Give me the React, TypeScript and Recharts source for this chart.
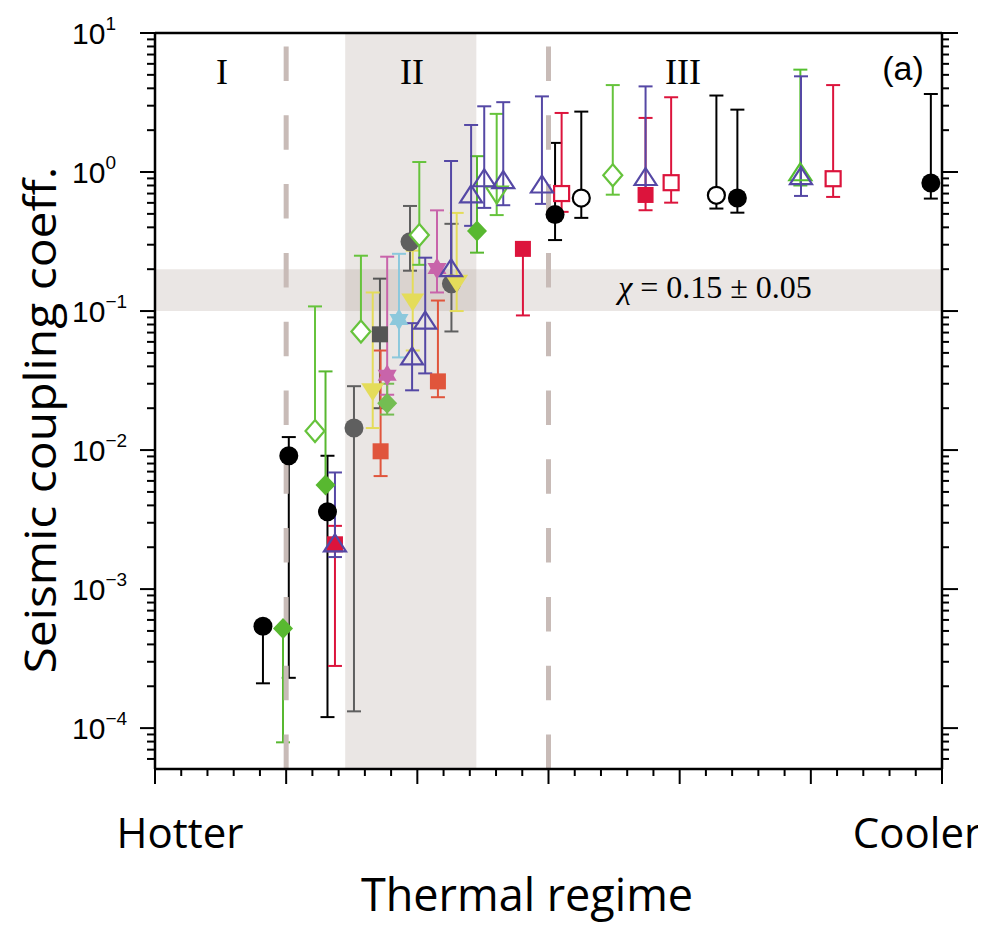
import React from 'react';
import {
  ComposedChart,
  Scatter,
  XAxis,
  YAxis,
  ErrorBar,
  ReferenceArea,
  ReferenceLine,
} from 'recharts';

// each point: [thermal position, coupling coeff, lower bound, upper bound]
type Pt = [number, number, number, number];

const grayDots: Pt[] = [
  [1.517, 0.0144, 1.32e-4, 0.0288],
  [1.944, 0.315, 0.195, 0.57],
  [2.26, 0.157, 0.0713, 0.424],
];
const graySquares: Pt[] = [[1.715, 0.068, 0.02, 0.171]];
const blackDots: Pt[] = [
  [0.823, 5.4e-4, 2.1e-4, 5.4e-4],
  [1.02, 9.1e-3, 2.3e-4, 0.0124],
  [1.315, 3.6e-3, 1.2e-4, 9.1e-3],
  [3.05, 0.494, 0.324, 1.62],
  [4.44, 0.651, 0.51, 2.81],
  [5.915, 0.834, 0.644, 3.64],
];
const blackRings: Pt[] = [
  [3.25, 0.65, 0.468, 2.72],
  [4.28, 0.68, 0.546, 3.55],
];
const crimsonSquares: Pt[] = [
  [1.372, 2.1e-3, 2.8e-4, 2.85e-3],
  [2.805, 0.28, 0.093, 0.31],
  [3.74, 0.684, 0.531, 2.45],
];
const orangeSquares: Pt[] = [
  [1.72, 9.8e-3, 6.5e-3, 0.052],
  [2.157, 0.0312, 0.024, 0.119],
];
const redOpenSquares: Pt[] = [
  [3.1, 0.7, 0.517, 2.66],
  [3.935, 0.838, 0.602, 3.45],
  [5.17, 0.895, 0.662, 4.22],
];
const yellowDown: Pt[] = [
  [1.66, 0.0265, 0.0144, 0.136],
  [1.965, 0.117, 0.052, 0.272],
  [2.3, 0.16, 0.1, 0.508],
];
const pinkStars: Pt[] = [
  [1.77, 0.0345, 0.025, 0.246],
  [2.15, 0.202, 0.136, 0.53],
];
const blueStars: Pt[] = [[1.86, 0.0869, 0.0464, 0.258]];
const greenDiamonds: Pt[] = [
  [0.976, 5.2e-4, 7.9e-5, 5.2e-4],
  [1.3, 5.6e-3, 5.6e-3, 0.0368],
  [2.455, 0.376, 0.263, 1.3],
];
const lightGreenDiamonds: Pt[] = [[1.77, 0.0217, 0.018, 0.03]];
const greenOpenDiamonds: Pt[] = [
  [1.22, 0.0137, 0.0137, 0.108],
  [1.57, 0.0713, 0.0713, 0.25],
  [2.015, 0.352, 0.215, 1.18],
  [3.49, 0.947, 0.687, 4.22],
];
const greenOpenUp: Pt[] = [[4.92, 0.98, 0.8, 5.45]];
const greenOpenDown: Pt[] = [[2.605, 0.7, 0.49, 2.62]];
const purpleOpenUp: Pt[] = [
  [1.372, 2.1e-3, 1.7e-3, 6.9e-3],
  [1.96, 0.0464, 0.0269, 0.0818],
  [2.06, 0.084, 0.0356, 0.242],
  [2.257, 0.2, 0.15, 1.2],
  [2.41, 0.68, 0.41, 2.18],
  [2.51, 0.887, 0.552, 2.97],
  [2.655, 0.86, 0.577, 3.18],
  [2.95, 0.8, 0.59, 3.5],
  [3.74, 0.906, 0.71, 4.13],
  [4.925, 0.92, 0.673, 4.88],
];

const xMajor = [0, 1, 2, 3, 4, 5, 6];
const yMajor = [1e-4, 1e-3, 1e-2, 1e-1, 1, 10];
const yExpLabels = ['\u22124', '\u22123', '\u22122', '\u22121', '0', '1'];

const Y_DOMAIN = [5.08e-5, 10];

const xTicks: number[] = [];
xMajor.slice(0, -1).forEach((m) => {
  for (let k = 0; k < 5; k++) xTicks.push(Math.round((m + k * 0.2) * 10) / 10);
});
xTicks.push(xMajor[xMajor.length - 1]);

// decade minors 2..9, plus the partial decade below 1e-4
const yTicks: number[] = [6e-5, 7e-5, 8e-5, 9e-5];
yMajor.forEach((m, i) => {
  yTicks.push(m);
  if (i < yMajor.length - 1) for (let k = 2; k <= 9; k++) yTicks.push(m * k);
});

type Kind = 'dot' | 'ring' | 'square' | 'openSquare' | 'up' | 'down' | 'downFilled' | 'diamond' | 'openDiamond' | 'star';

const groups: { data: Pt[]; color: string; kind: Kind }[] = [
  { data: grayDots, color: '#5f5f5f', kind: 'dot' },
  { data: graySquares, color: '#555555', kind: 'square' },
  { data: blackDots, color: '#000000', kind: 'dot' },
  { data: blackRings, color: '#000000', kind: 'ring' },
  { data: crimsonSquares, color: '#dc143c', kind: 'square' },
  { data: orangeSquares, color: '#e0553c', kind: 'square' },
  { data: redOpenSquares, color: '#dc143c', kind: 'openSquare' },
  { data: yellowDown, color: '#e4dc5a', kind: 'downFilled' },
  { data: pinkStars, color: '#c864aa', kind: 'star' },
  { data: blueStars, color: '#8cc8dc', kind: 'star' },
  { data: greenDiamonds, color: '#58b830', kind: 'diamond' },
  { data: lightGreenDiamonds, color: '#74bd52', kind: 'diamond' },
  { data: greenOpenDiamonds, color: '#66c33c', kind: 'openDiamond' },
  { data: greenOpenUp, color: '#55c030', kind: 'up' },
  { data: greenOpenDown, color: '#66c33c', kind: 'down' },
  { data: purpleOpenUp, color: '#5548a5', kind: 'up' },
];

const Marker = ({ cx, cy, kind, color }: { cx: number; cy: number; kind: Kind; color: string }) => {
  if (cx == null || cy == null) return null;
  const sw = 2.2;
  switch (kind) {
    case 'dot':
      return <circle cx={cx} cy={cy} r={9.5} fill={color} />;
    case 'ring':
      return <circle cx={cx} cy={cy} r={8.5} fill="#fff" stroke={color} strokeWidth={sw} />;
    case 'square':
      return <rect x={cx - 8} y={cy - 8} width={16} height={16} fill={color} />;
    case 'openSquare':
      return <rect x={cx - 7.5} y={cy - 7.5} width={15} height={15} fill="#fff" stroke={color} strokeWidth={sw} />;
    case 'up': {
      const p = `${cx},${cy - 10} ${cx + 11},${cy + 7} ${cx - 11},${cy + 7}`;
      return <polygon points={p} fill="none" stroke={color} strokeWidth={sw} />;
    }
    case 'down': {
      const p = `${cx},${cy + 10} ${cx + 11},${cy - 7} ${cx - 11},${cy - 7}`;
      return <polygon points={p} fill="none" stroke={color} strokeWidth={sw} />;
    }
    case 'downFilled': {
      const p = `${cx},${cy + 10} ${cx + 11.5},${cy - 8} ${cx - 11.5},${cy - 8}`;
      return <polygon points={p} fill={color} />;
    }
    case 'diamond': {
      const p = `${cx},${cy - 10.5} ${cx + 10},${cy} ${cx},${cy + 10.5} ${cx - 10},${cy}`;
      return <polygon points={p} fill={color} />;
    }
    case 'openDiamond': {
      const p = `${cx},${cy - 11} ${cx + 9.5},${cy} ${cx},${cy + 11} ${cx - 9.5},${cy}`;
      return <polygon points={p} fill="#fff" stroke={color} strokeWidth={sw} />;
    }
    case 'star': {
      const r = 11;
      const a = (k: number, off: number) =>
        `${cx + r * Math.cos(((k * 120 + off) * Math.PI) / 180)},${cy + r * Math.sin(((k * 120 + off) * Math.PI) / 180)}`;
      return (
        <g fill={color}>
          <polygon points={[0, 1, 2].map((k) => a(k, -90)).join(' ')} />
          <polygon points={[0, 1, 2].map((k) => a(k, 90)).join(' ')} />
        </g>
      );
    }
    default:
      return null;
  }
};

const isMajorLog = (v: number) => Math.abs(Math.log10(v) - Math.round(Math.log10(v))) < 1e-6;
const isMajorX = (v: number) => Math.abs(v - Math.round(v)) < 1e-6;

const BottomTick = ({ x, y, payload }: any) => (
  <line x1={x} x2={x} y1={y} y2={y + (isMajorX(payload.value) ? 15 : 7)} stroke="#000" strokeWidth={2} />
);
const TopTick = ({ x, y, payload }: any) => (
  <line x1={x} x2={x} y1={y} y2={y - (isMajorX(payload.value) ? 15 : 7)} stroke="#000" strokeWidth={2} />
);
const RightTick = ({ x, y, payload }: any) => (
  <line x1={x} x2={x + (isMajorLog(payload.value) ? 16 : 7)} y1={y} y2={y} stroke="#000" strokeWidth={2} />
);
const LeftTick = ({ x, y, payload }: any) => {
  const major = isMajorLog(payload.value);
  const idx = yMajor.findIndex((m) => Math.abs(Math.log10(m) - Math.log10(payload.value)) < 1e-6);
  return (
    <g>
      <line x1={x - (major ? 15 : 8)} x2={x} y1={y} y2={y} stroke="#000" strokeWidth={2} />
      {major && idx >= 0 && (
        <text x={x - 83} y={y + 11} fontSize={30} fontFamily="Liberation Sans" fill="#000">
          10
          <tspan dy={-14} fontSize={19}>
            {yExpLabels[idx]}
          </tspan>
        </text>
      )}
    </g>
  );
};

const Note = ({ x, y, size, family, children, transform }: any) => (
  <div
    style={{
      position: 'absolute',
      left: x,
      top: y,
      transform: `translate(-50%, -50%)${transform ? ` ${transform}` : ''}`,
      fontSize: size,
      fontFamily: family,
      lineHeight: 1,
      whiteSpace: 'nowrap',
      color: '#000',
    }}
  >
    {children}
  </div>
);

const App = () => {
  const series = groups.map((g) =>
    g.data.map(([x, y, lo, hi]) => ({ x, y, err: [y - lo, hi - y] })),
  );
  return (
    <div style={{ position: 'relative', width: 978, height: 917 }}>
      <ComposedChart width={970} height={910} margin={{ top: 5, right: 6, bottom: 119, left: 87 }}>
        <XAxis
          xAxisId="b"
          dataKey="x"
          type="number"
          domain={[0, 6]}
          allowDataOverflow
          ticks={xTicks}
          interval={0}
          height={30}
          tickSize={0}
          tickMargin={0}
          tickLine={false}
          tick={<BottomTick />}
          axisLine={{ stroke: '#000', strokeWidth: 2.5 }}
        />
        <XAxis
          xAxisId="t"
          orientation="top"
          type="number"
          domain={[0, 6]}
          allowDataOverflow
          ticks={xTicks}
          interval={0}
          height={20}
          tickSize={0}
          tickMargin={0}
          tickLine={false}
          tick={<TopTick />}
          axisLine={{ stroke: '#000', strokeWidth: 2.5 }}
        />
        <YAxis
          yAxisId="l"
          dataKey="y"
          type="number"
          scale="log"
          domain={Y_DOMAIN}
          allowDataOverflow
          ticks={yTicks}
          interval={0}
          width={60}
          tickSize={0}
          tickMargin={0}
          tickLine={false}
          tick={<LeftTick />}
          axisLine={{ stroke: '#000', strokeWidth: 2.5 }}
        />
        <YAxis
          yAxisId="r"
          orientation="right"
          type="number"
          scale="log"
          domain={Y_DOMAIN}
          allowDataOverflow
          ticks={yTicks}
          interval={0}
          width={30}
          tickSize={0}
          tickMargin={0}
          tickLine={false}
          tick={<RightTick />}
          axisLine={{ stroke: '#000', strokeWidth: 2.5 }}
        />
        <ReferenceArea xAxisId="b" yAxisId="l" x1={1.45} x2={2.45} fill="#a8968f" fillOpacity={0.24} stroke="none" />
        <ReferenceArea xAxisId="b" yAxisId="l" y1={0.1} y2={0.2} fill="#a8968f" fillOpacity={0.24} stroke="none" />
        {groups.map((g, i) => (
          <Scatter
            key={i}
            xAxisId="b"
            yAxisId="l"
            data={series[i]}
            dataKey="y"
            isAnimationActive={false}
            shape={(p: any) => <Marker cx={p.cx} cy={p.cy} kind={g.kind} color={g.color} />}
          >
            <ErrorBar
              dataKey="err"
              direction="y"
              width={7}
              stroke={g.color}
              strokeWidth={2}
              isAnimationActive={false}
            />
          </Scatter>
        ))}
        <ReferenceLine xAxisId="b" yAxisId="l" x={1} stroke="#c8bbb7" strokeWidth={5} strokeDasharray="34.5 34.3" />
        <ReferenceLine xAxisId="b" yAxisId="l" x={3} stroke="#c8bbb7" strokeWidth={5} strokeDasharray="34.5 34.3" />
      </ComposedChart>
      <Note x={214} y={64} size={36} family="Liberation Serif">I</Note>
      <Note x={404} y={64} size={36} family="Liberation Serif">II</Note>
      <Note x={675} y={64} size={36} family="Liberation Serif">III</Note>
      <Note x={895} y={60} size={34} family="Liberation Sans">(a)</Note>
      <Note x={707} y={279} size={32} family="Liberation Serif">
        <i>χ</i> = 0.15 ± 0.05
      </Note>
      <Note x={32} y={412} size={48} family="Open Sans" transform="rotate(-90deg) scaleY(0.9)">
        Seismic coupling coeff.
      </Note>
      <Note x={172} y={824} size={42} family="Open Sans">Hotter</Note>
      <Note x={909} y={824} size={42} family="Open Sans">Cooler</Note>
      <Note x={519} y={885} size={45} family="Open Sans">Thermal regime</Note>
    </div>
  );
};

export default App;
